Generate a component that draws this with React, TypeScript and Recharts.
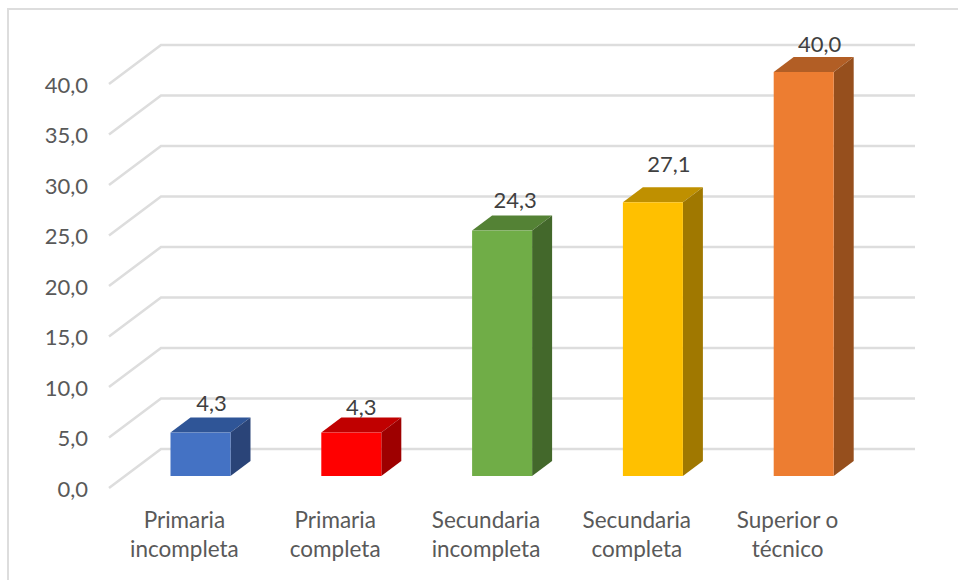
import React from "react";
import {
  BarChart,
  Bar,
  XAxis,
  YAxis,
  CartesianGrid,
  LabelList,
} from "recharts";

const categories = [
  "Primaria incompleta",
  "Primaria completa",
  "Secundaria incompleta",
  "Secundaria completa",
  "Superior o técnico",
];
const values = [4.3, 4.3, 24.3, 27.1, 40.0];
const yTicks = [0, 5, 10, 15, 20, 25, 30, 35, 40];

const frontColors = ["#4472C4", "#FF0000", "#70AD47", "#FFC000", "#ED7D31"];
const topColors = ["#2F5597", "#C00000", "#548235", "#BF9000", "#B25E25"];
const sideColors = ["#2A4478", "#9E0000", "#43682B", "#A07800", "#964F1D"];

// label offsets from the top centre of each front face
const labelNudgeX = [11, 10, 13, 16, 16];
const labelNudgeY = [-30, -26, -31, -39, -29];

const data = categories.map((name, i) => ({ name, value: values[i] }));

const FONT = "Lato, sans-serif";
const GRID = "#DDDDDD";

// floor and back wall of the 3D look
const WALL_DX = 52;
const WALL_DY = 39;
// bars stand in the middle of the floor
const BAR_DX = 16.5;
const BAR_DY = 12;
// depth of each box
const DEPTH_X = 20;
const DEPTH_Y = 15;

const formatNum = (v: number) => v.toFixed(1).replace(".", ",");

const renderGridLine = (props: any) => {
  const { x1, y1, x2, index } = props;
  const y = y1 - WALL_DY;
  return (
    <polyline
      key={index}
      points={`${x1},${y1} ${x1 + WALL_DX},${y} ${x2 + WALL_DX},${y}`}
      fill="none"
      stroke={GRID}
      strokeWidth={2.5}
    />
  );
};

const renderBox = (props: any) => {
  const { x, y, width, height, index } = props;
  const l = x + BAR_DX;
  const r = l + width;
  const t = y - BAR_DY;
  const b = t + height;
  return (
    <g>
      <polygon
        points={`${l},${t} ${l + DEPTH_X},${t - DEPTH_Y} ${r + DEPTH_X},${t - DEPTH_Y} ${r},${t}`}
        fill={topColors[index]}
      />
      <polygon
        points={`${r},${t} ${r + DEPTH_X},${t - DEPTH_Y} ${r + DEPTH_X},${b - DEPTH_Y} ${r},${b}`}
        fill={sideColors[index]}
      />
      <rect x={l} y={t} width={width} height={height} fill={frontColors[index]} />
    </g>
  );
};

const renderValueLabel = (props: any) => {
  const { x, y, width, index } = props;
  return (
    <text
      x={x + BAR_DX + width / 2 + labelNudgeX[index]}
      y={y - BAR_DY + labelNudgeY[index]}
      textAnchor="middle"
      dominantBaseline="central"
      fontFamily={FONT}
      fontSize={22}
      fill="#404040"
    >
      {formatNum(values[index])}
    </text>
  );
};

const CategoryTick = (props: any) => {
  const { x, y, payload } = props;
  const text: string = payload.value;
  const cut = text.lastIndexOf(" ");
  return (
    <text
      x={x}
      y={y}
      textAnchor="middle"
      fontFamily={FONT}
      fontSize={22.5}
      fill="#595959"
    >
      <tspan x={x} dy={32}>
        {text.slice(0, cut)}
      </tspan>
      <tspan x={x} dy={29}>
        {text.slice(cut + 1)}
      </tspan>
    </text>
  );
};

export default function App() {
  return (
    <div
      style={{
        position: "absolute",
        left: 0,
        top: 0,
        width: 958,
        height: 580,
        background: "#fff",
        overflow: "hidden",
      }}
    >
      <div
        style={{
          position: "absolute",
          left: 7,
          top: 8,
          right: 0,
          bottom: 0,
          borderLeft: `2px solid ${GRID}`,
          borderTop: `2px solid ${GRID}`,
        }}
      />
      <BarChart
        width={958}
        height={580}
        data={data}
        margin={{ top: 84, right: 95, bottom: 12, left: 8 }}
        style={{ position: "absolute", left: 0, top: 0 }}
      >
        <CartesianGrid
          vertical={false}
          horizontal={renderGridLine}
          stroke={GRID}
        />
        <XAxis
          dataKey="name"
          height={80}
          axisLine={false}
          tickLine={false}
          interval={0}
          tick={<CategoryTick />}
        />
        <YAxis
          width={101}
          domain={[0, 40]}
          ticks={yTicks}
          axisLine={false}
          tickLine={false}
          tickMargin={15}
          tickFormatter={formatNum}
          tick={{ fontFamily: FONT, fontSize: 22, fill: "#595959", dy: 1 }}
        />
        <Bar
          dataKey="value"
          barSize={60}
          isAnimationActive={false}
          shape={renderBox}
        >
          <LabelList dataKey="value" content={renderValueLabel} />
        </Bar>
      </BarChart>
    </div>
  );
}
